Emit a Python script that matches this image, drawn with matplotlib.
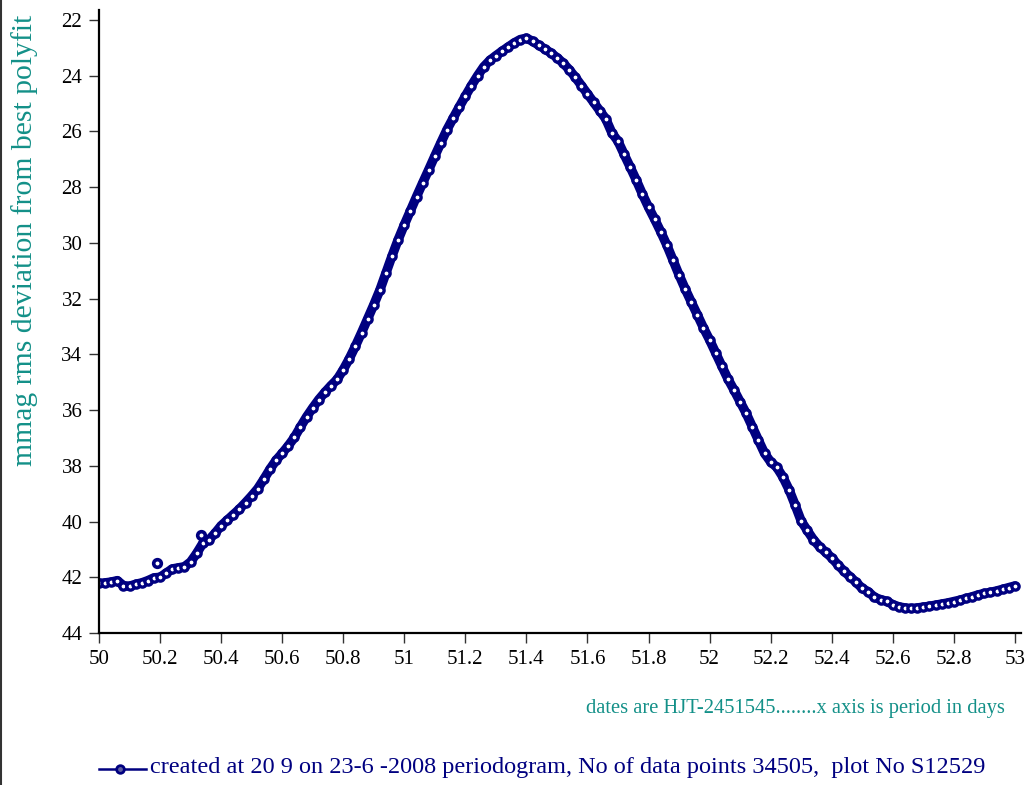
import numpy as np
import matplotlib
matplotlib.use('Agg')
import matplotlib.pyplot as plt
from matplotlib.lines import Line2D

# rms deviation (mmag) sampled every 0.02 days, 50.00 .. 53.00
rms = [42.22, 42.20, 42.17, 42.12, 42.30, 42.32, 42.25, 42.20, 42.12, 42.02,
       42.00, 41.85, 41.70, 41.66, 41.62, 41.45, 41.14, 40.78, 40.66, 40.42,
       40.15, 39.95, 39.75, 39.55, 39.32, 39.08, 38.82, 38.48, 38.12, 37.80,
       37.55, 37.28, 36.98, 36.60, 36.24, 35.92, 35.62, 35.36, 35.12, 34.90,
       34.55, 34.15, 33.70, 33.22, 32.72, 32.22, 31.69, 31.08, 30.46, 29.88,
       29.35, 28.84, 28.34, 27.85, 27.37, 26.88, 26.40, 25.93, 25.52, 25.12,
       24.73, 24.35, 24.00, 23.68, 23.45, 23.28, 23.12, 22.97, 22.82, 22.70,
       22.65, 22.76, 22.90, 23.04, 23.18, 23.35, 23.54, 23.78, 24.05, 24.35,
       24.65, 24.95, 25.25, 25.55, 26.05, 26.35, 26.82, 27.28, 27.75, 28.25,
       28.72, 29.15, 29.60, 30.08, 30.62, 31.15, 31.65, 32.12, 32.58, 33.05,
       33.48, 33.95, 34.42, 34.88, 35.28, 35.70, 36.12, 36.60, 37.08, 37.55,
       37.86, 38.05, 38.40, 38.85, 39.40, 39.98, 40.32, 40.65, 40.90, 41.10,
       41.30, 41.55, 41.78, 41.98, 42.18, 42.40, 42.52, 42.72, 42.80, 42.86,
       42.98, 43.06, 43.10, 43.12, 43.10, 43.07, 43.04, 43.00, 42.96, 42.92,
       42.87, 42.82, 42.76, 42.70, 42.63, 42.58, 42.54, 42.49, 42.43, 42.37,
       42.31]
period = np.linspace(50, 53, len(rms))

# stray points off the main curve
stray_x = [50.19, 50.335]
stray_y = [41.50, 40.50]

xticks = [50, 50.2, 50.4, 50.6, 50.8, 51, 51.2, 51.4, 51.6, 51.8, 52,
          52.2, 52.4, 52.6, 52.8, 53]
xlabels = ['50', '50.2', '50.4', '50.6', '50.8', '51', '51.2', '51.4', '51.6',
           '51.8', '52', '52.2', '52.4', '52.6', '52.8', '53']
yticks = [22, 24, 26, 28, 30, 32, 34, 36, 38, 40, 42, 44]

navy = '#000080'
teal = '#139088'

plt.rcParams['font.family'] = ['Liberation Serif', 'DejaVu Serif']

W, H = 1027, 785
fig = plt.figure(figsize=(W / 100, H / 100), dpi=100)
ax = fig.add_axes([99 / W, 1 - 633 / H, (1021 - 99) / W, (633 - 10) / H])

# thick band under the markers, like the dense original trace
ax.plot(period, rms, color=navy, lw=6.8, solid_capstyle='round',
        solid_joinstyle='round')
ax.plot(period, rms, ls='none', marker='o', ms=5.2, mew=2.4,
        mfc='white', mec=navy)
ax.plot(stray_x, stray_y, color=navy, ls='none', marker='o', ms=5.5,
        mew=2.6, mfc='white', mec=navy)

ax.set_xlim(50, 53.02)
ax.set_ylim(44, 21.64)
ax.set_xticks(xticks)
ax.set_xticklabels(xlabels)
ax.set_yticks(yticks)
for s in ['top', 'right']:
    ax.spines[s].set_visible(False)
for s in ['left', 'bottom']:
    ax.spines[s].set_linewidth(1.6)
ax.tick_params(direction='out', length=7, width=1, labelsize=15, pad=5,
               color='#333333')

fig.text(25 / W, 1 - 240 / H, 'mmag rms deviation from best polyfit',
         rotation=90, ha='center', va='center', fontsize=21.3, color=teal)
fig.text(1005 / W, 1 - 709 / H,
         'dates are HJT-2451545........x axis is period in days',
         ha='right', va='center', fontsize=14.8, color=teal)

# legend drawn by hand
fig.add_artist(Line2D([99 / W, 146 / W], [1 - 769 / H, 1 - 769 / H],
                      color=navy, lw=1.8))
fig.add_artist(Line2D([120 / W], [1 - 769 / H], color=navy, marker='o',
                      ms=5.5, mew=2, mfc='#6060a0', mec=navy))
fig.text(150 / W, 1 - 768 / H,
         'created at 20 9 on 23-6 -2008 periodogram, No of data points 34505,  plot No S12529',
         ha='left', va='center', fontsize=17.5, color=navy)

# left page border
fig.add_artist(Line2D([0.0012, 0.0012], [0, 1], color='#333333', lw=1.5))

fig.savefig('out.png', dpi=100)
